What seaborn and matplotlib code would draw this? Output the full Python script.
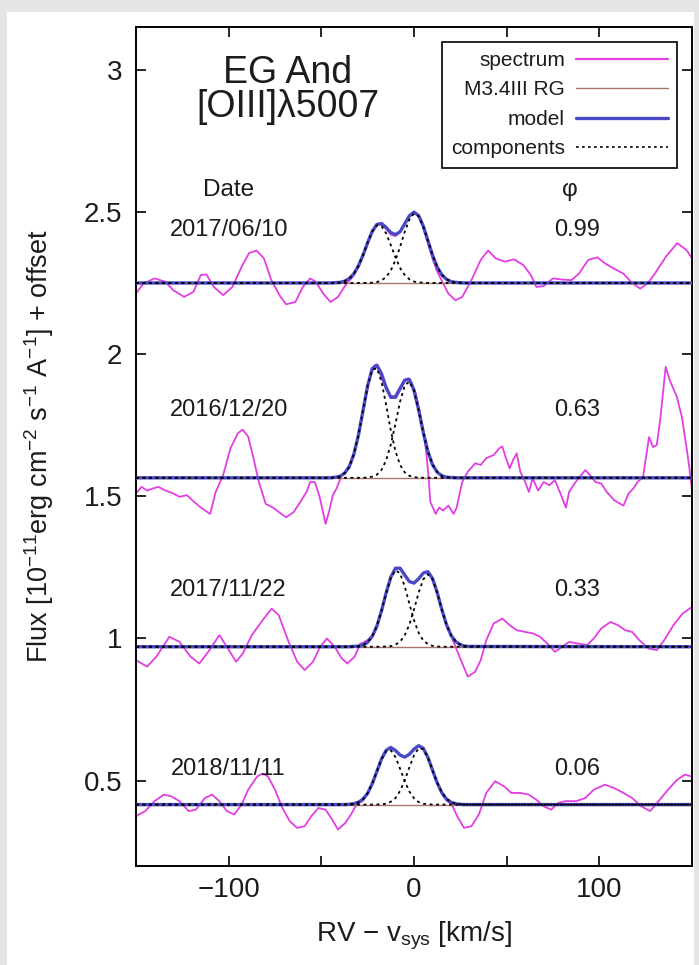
import numpy as np
import pandas as pd
import matplotlib
matplotlib.use("Agg")
import matplotlib.pyplot as plt
import seaborn as sns
from matplotlib.lines import Line2D
from matplotlib.patches import Rectangle

# ---------------- data ----------------
DATES = ["2017/06/10", "2016/12/20", "2017/11/22", "2018/11/11"]
PHASES = ["0.99", "0.63", "0.33", "0.06"]
BASELINES = [2.25, 1.565, 0.971, 0.416]          # red-giant continuum + offset
LABEL_Y = [2.437, 1.803, 1.169, 0.542]

X_TICKS = [-100, -50, 0, 50, 100]
X_TICK_LABELS = ["\u2212100", "", "0", "", "100"]
Y_TICKS = [0.5, 1.0, 1.5, 2.0, 2.5, 3.0]
Y_TICK_LABELS = ["0.5", "1", "1.5", "2", "2.5", "3"]

# observed spectra (velocity, flux + offset)
VEL_1 = [-150, -146, -140, -134, -130, -124, -119, -115, -112, -108, -103, -98, -93, -89, -85, -81, -77, -72,
         -69, -64, -60, -56, -53, -49, -45, -41, -37, -33, -30, -27.5, -25, -22.5, -20, -17.5, -15, -12.5, -10,
         -7.5, -5, -2.5, 0, 2.5, 5, 7.5, 10, 12.5, 15.6, 18.5, 22.4, 26, 31, 36, 40, 44, 49, 54, 59, 63, 66, 70,
         75, 80, 85, 89, 94, 99, 103, 108, 113, 117, 122, 126, 130, 136, 142, 147, 150]
FLUX_1 = [2.213, 2.248, 2.266, 2.254, 2.225, 2.201, 2.219, 2.278, 2.28, 2.236, 2.207, 2.236, 2.307, 2.355, 2.364,
          2.337, 2.26, 2.201, 2.175, 2.183, 2.236, 2.266, 2.254, 2.213, 2.183, 2.201, 2.242, 2.272, 2.305, 2.345,
          2.39, 2.43, 2.458, 2.455, 2.44, 2.42, 2.415, 2.43, 2.46, 2.488, 2.5, 2.485, 2.445, 2.39, 2.335, 2.29,
          2.25, 2.213, 2.189, 2.201, 2.26, 2.331, 2.364, 2.337, 2.325, 2.333, 2.313, 2.278, 2.236, 2.239, 2.266,
          2.262, 2.26, 2.283, 2.331, 2.34, 2.319, 2.3, 2.283, 2.254, 2.23, 2.248, 2.283, 2.343, 2.39, 2.366, 2.337]

VEL_2 = [-150, -147, -144, -141, -138, -134, -130, -126.5, -122.6, -119.6, -115, -110, -107, -103, -99, -95,
         -92.4, -89.5, -86.6, -83.7, -80, -76, -72, -69, -65, -62, -58, -56, -53.5, -51, -47.7, -45.7, -43.8,
         -41.8, -39, -37, -35, -32.5, -30, -27.5, -25, -22.5, -21, -19, -17.5, -15, -12.5, -10, -7.5, -5, -3,
         -1, 1, 3, 5, 6.5, 7.8, 8.8, 11.7, 13.6, 15.6, 18.5, 21.4, 23, 26, 29, 33, 36, 39, 43, 46, 47.7, 49.6,
         51.6, 53.5, 55.4, 57.4, 60, 62, 64, 67, 70, 73, 76, 79, 82, 83.7, 86.6, 89.5, 92.4, 95, 98, 101, 104,
         108, 113, 115.8, 118.7, 120.6, 123.6, 126.8, 129, 131, 133, 135.8, 138, 141.8, 144.5, 147, 149, 150]
FLUX_2 = [1.51, 1.533, 1.52, 1.527, 1.533, 1.52, 1.51, 1.498, 1.504, 1.486, 1.46, 1.438, 1.515, 1.574, 1.669,
          1.722, 1.734, 1.71, 1.634, 1.55, 1.473, 1.46, 1.44, 1.426, 1.444, 1.473, 1.515, 1.55, 1.55, 1.50, 1.403,
          1.45, 1.504, 1.527, 1.574, 1.586, 1.60, 1.645, 1.715, 1.80, 1.89, 1.95, 1.962, 1.945, 1.915, 1.875,
          1.85, 1.855, 1.885, 1.91, 1.915, 1.895, 1.86, 1.80, 1.73, 1.66, 1.574, 1.48, 1.438, 1.46, 1.45, 1.467,
          1.438, 1.46, 1.55, 1.586, 1.616, 1.61, 1.634, 1.645, 1.669, 1.675, 1.634, 1.598, 1.628, 1.651, 1.586,
          1.55, 1.515, 1.563, 1.52, 1.55, 1.539, 1.557, 1.51, 1.46, 1.515, 1.545, 1.569, 1.592, 1.574, 1.55,
          1.545, 1.515, 1.486, 1.467, 1.51, 1.53, 1.55, 1.568, 1.708, 1.673, 1.68, 1.778, 1.955, 1.908, 1.85,
          1.78, 1.674, 1.58, 1.52]

VEL_3 = [-150, -144, -139, -132, -126.5, -120.6, -115.8, -111, -105, -101, -96, -92.4, -87.5, -81.7, -76.8, -73,
         -68, -63, -59, -54.5, -50.6, -47, -42.8, -39, -36, -32, -29, -27.5, -25, -22.5, -20, -17.5, -15, -12.5,
         -10, -7.5, -5, -2.5, 0, 2.5, 5, 7.5, 10, 12.5, 15, 17.5, 20, 22.4, 25.3, 29, 33, 36, 39, 43, 47.7, 51.6,
         55.4, 60, 64, 68, 72, 76, 80, 83.7, 88.5, 93.4, 97, 101, 106, 110, 114, 117.7, 121.6, 126.5, 131, 135,
         140, 145, 150]
FLUX_3 = [0.924, 0.901, 0.936, 1.006, 0.988, 0.936, 0.912, 0.953, 1.012, 0.971, 0.918, 0.947, 1.012, 1.064, 1.105,
          1.082, 0.994, 0.918, 0.889, 0.918, 0.971, 1.0, 0.971, 0.93, 0.912, 0.936, 0.982, 0.985, 0.995, 1.01,
          1.045, 1.10, 1.16, 1.215, 1.245, 1.245, 1.225, 1.2, 1.193, 1.21, 1.23, 1.235, 1.212, 1.165, 1.105,
          1.05, 1.01, 0.971, 0.924, 0.866, 0.883, 0.924, 0.994, 1.053, 1.07, 1.047, 1.029, 1.023, 1.018, 1.006,
          0.982, 0.953, 0.971, 0.988, 0.982, 0.977, 1.0, 1.035, 1.058, 1.047, 1.029, 1.023, 0.994, 0.965, 0.959,
          0.994, 1.047, 1.088, 1.111]

VEL_4 = [-150, -145, -140, -135, -131, -126.5, -121.6, -117.7, -112.8, -109, -105, -101, -97, -93, -89.5, -84.6,
         -81.7, -78.8, -75, -71, -67, -63, -59, -55.4, -51.6, -47.7, -44.7, -41, -37, -34, -31, -27.5, -25, -22.5,
         -20, -17.5, -15, -12.5, -10, -7.5, -5, -2.5, 0, 2.5, 5, 7.5, 10, 12.5, 15, 17.5, 20.4, 23.3, 27, 31, 35,
         39, 43.8, 48.6, 52.5, 57.4, 62, 66, 70, 74, 77.8, 81.7, 87.5, 92.4, 97, 103, 108, 113, 117.7, 122.6,
         127.4, 132, 137, 142, 146, 150]
FLUX_4 = [0.375, 0.393, 0.428, 0.451, 0.445, 0.428, 0.393, 0.398, 0.439, 0.451, 0.428, 0.393, 0.381, 0.416, 0.468,
          0.515, 0.525, 0.515, 0.468, 0.404, 0.357, 0.334, 0.34, 0.375, 0.404, 0.398, 0.369, 0.328, 0.352, 0.381,
          0.416, 0.43, 0.455, 0.49, 0.535, 0.577, 0.607, 0.615, 0.606, 0.59, 0.582, 0.593, 0.611, 0.622, 0.613,
          0.58, 0.535, 0.49, 0.455, 0.43, 0.416, 0.375, 0.334, 0.34, 0.381, 0.457, 0.498, 0.48, 0.457, 0.457,
          0.451, 0.433, 0.41, 0.398, 0.422, 0.428, 0.428, 0.439, 0.468, 0.486, 0.474, 0.457, 0.439, 0.41, 0.393,
          0.428, 0.468, 0.503, 0.521, 0.515]

# fitted emission components (flux above the continuum), on a common velocity grid
VEL_FIT = [-150, -45, -42.5, -40, -37.5, -35, -32.5, -30, -27.5, -25, -22.5, -20, -17.5, -15, -12.5, -10, -7.5,
           -5, -2.5, 0, 2.5, 5, 7.5, 10, 12.5, 15, 17.5, 20, 22.5, 25, 27.5, 30, 150]
COMP_1A = [0, 0, .001, .002, .006, .015, .032, .060, .098, .142, .181, .203, .200, .174, .133, .090, .053, .028,
           .013, .005, .002, .001, 0, 0, 0, 0, 0, 0, 0, 0, 0, 0, 0]
COMP_1B = [0, 0, 0, 0, 0, 0, 0, 0, 0, 0, .001, .003, .009, .021, .044, .080, .127, .180, .223, .244, .235, .199,
           .149, .098, .056, .029, .013, .005, .002, .001, 0, 0, 0]
COMP_2A = [0, 0, .002, .005, .016, .038, .082, .149, .237, .323, .380, .385, .337, .255, .166, .093, .045, .019,
           .007, .002, .001, 0, 0, 0, 0, 0, 0, 0, 0, 0, 0, 0, 0]
COMP_2B = [0, 0, 0, 0, 0, 0, 0, 0, 0, .001, .004, .011, .028, .062, .117, .190, .268, .324, .339, .306, .238,
           .160, .092, .046, .020, .007, .002, .001, 0, 0, 0, 0, 0]
COMP_3A = [0, 0, 0, 0, 0, 0, .001, .002, .006, .016, .037, .073, .127, .189, .243, .269, .258, .212, .151, .093,
           .049, .022, .009, .003, .001, 0, 0, 0, 0, 0, 0, 0, 0]
COMP_3B = [0, 0, 0, 0, 0, 0, 0, 0, 0, 0, 0, 0, 0, .001, .002, .007, .018, .040, .078, .131, .190, .237, .255,
           .237, .190, .131, .078, .040, .018, .007, .002, .001, 0]
COMP_4A = [0, 0, 0, 0, 0, .001, .003, .008, .019, .040, .074, .117, .160, .188, .191, .167, .126, .082, .046,
           .022, .009, .003, .001, 0, 0, 0, 0, 0, 0, 0, 0, 0, 0]
COMP_4B = [0, 0, 0, 0, 0, 0, 0, 0, 0, 0, 0, 0, .001, .003, .010, .023, .048, .085, .131, .173, .198, .195, .165,
           .121, .077, .042, .020, .008, .003, .001, 0, 0, 0]

SPECTRA = [(VEL_1, FLUX_1), (VEL_2, FLUX_2), (VEL_3, FLUX_3), (VEL_4, FLUX_4)]
COMPONENTS = [(COMP_1A, COMP_1B), (COMP_2A, COMP_2B), (COMP_3A, COMP_3B), (COMP_4A, COMP_4B)]

# ---------------- style ----------------
sns.set_theme(style="white")
plt.rcParams['font.family'] = ['Liberation Sans', 'DejaVu Sans']
plt.rcParams['mathtext.fontset'] = 'custom'
plt.rcParams['mathtext.rm'] = 'Liberation Sans'
plt.rcParams['mathtext.it'] = 'Liberation Sans:italic'
plt.rcParams['mathtext.default'] = 'regular'
plt.rcParams['axes.unicode_minus'] = True

C_SPEC = '#e33ee3'
C_RG = '#a87470'
C_MODEL = '#4a4ac8'
C_TEXT = '#1c1c1c'

W, H = 699, 965
fig = plt.figure(figsize=(W / 100, H / 100), dpi=100, facecolor='#e5e5e5')
fig.patches.append(Rectangle((7 / W, 0), (694 - 7) / W, (H - 12) / H, transform=fig.transFigure,
                             facecolor='white', edgecolor='none', zorder=-5))
ax = fig.add_axes([136 / W, (H - 866) / H, (692 - 136) / W, (866 - 27) / H])
ax.set_facecolor('white')

vfit = np.array(VEL_FIT)
for (vel, flux), (ca, cb), base in zip(SPECTRA, COMPONENTS, BASELINES):
    sns.lineplot(x=vel, y=flux, ax=ax, color=C_SPEC, lw=1.3, sort=False, estimator=None, zorder=2)
    sns.lineplot(x=[-150, 150], y=[base, base], ax=ax, color=C_RG, lw=1.0, sort=False, estimator=None, zorder=3)
    model = base + np.array(ca) + np.array(cb)
    sns.lineplot(x=vfit, y=model, ax=ax, color=C_MODEL, lw=2.4, sort=False, estimator=None, zorder=4)
    for comp in (ca, cb):
        sns.lineplot(x=vfit, y=base + np.array(comp), ax=ax, color='black', lw=1.3, sort=False,
                     estimator=None, zorder=5, linestyle=(0, (1.6, 2.0)))

ax.set_xlim(-150, 150)
ax.set_ylim(0.2, 3.15)
ax.set_xticks(X_TICKS)
ax.set_xticklabels(X_TICK_LABELS)
ax.set_yticks(Y_TICKS)
ax.set_yticklabels(Y_TICK_LABELS)
ax.tick_params(axis='both', which='major', direction='in', length=7, width=1.2, color='black',
               top=True, right=True, bottom=True, left=True, labelsize=20, labelcolor=C_TEXT)
ax.tick_params(axis='x', pad=8)
ax.tick_params(axis='y', pad=10)
for s in ax.spines.values():
    s.set_color('black')
    s.set_linewidth(1.4)

ax.set_xlabel("RV \u2212 v$_{sys}$ [km/s]", fontsize=20, color=C_TEXT)
ax.set_ylabel("Flux [10$^{-11}$erg cm$^{-2}$ s$^{-1}$ A$^{-1}$] + offset", fontsize=19.5, color=C_TEXT)
ax.xaxis.set_label_coords(0.5, -0.064)
ax.yaxis.set_label_coords(-0.143, 0.5)

# annotations
ax.text(-68, 2.99, "EG And", fontsize=27, ha='center', va='center', color=C_TEXT)
ax.text(-68, 2.867, "[OIII]\u03bb5007", fontsize=27, ha='center', va='center', color=C_TEXT)
ax.text(-100, 2.577, "Date", fontsize=17.5, ha='center', va='center', color=C_TEXT)
ax.text(84, 2.577, "\u03c6", fontsize=17.5, ha='center', va='center', color=C_TEXT)
for d, p, y in zip(DATES, PHASES, LABEL_Y):
    ax.text(-100, y, d, fontsize=17, ha='center', va='center', color=C_TEXT)
    ax.text(88, y, p, fontsize=17, ha='center', va='center', color=C_TEXT)

handles = [Line2D([], [], color=C_SPEC, lw=1.6),
           Line2D([], [], color=C_RG, lw=1.0),
           Line2D([], [], color=C_MODEL, lw=2.4),
           Line2D([], [], color='black', lw=1.2, linestyle=(0, (1.6, 2.0)))]
labels = ["spectrum", "M3.4III RG", "model", "components"]
leg = ax.legend(handles, labels, loc='upper right', markerfirst=False, fontsize=15, frameon=True,
                fancybox=False, edgecolor='black', framealpha=1, handlelength=4.4, handletextpad=0.55,
                labelspacing=0.5, borderaxespad=0.7, borderpad=0.45)
leg.get_frame().set_linewidth(1.2)
for t in leg.get_texts():
    t.set_color(C_TEXT)

fig.savefig("out.png", dpi=100, facecolor=fig.get_facecolor())
